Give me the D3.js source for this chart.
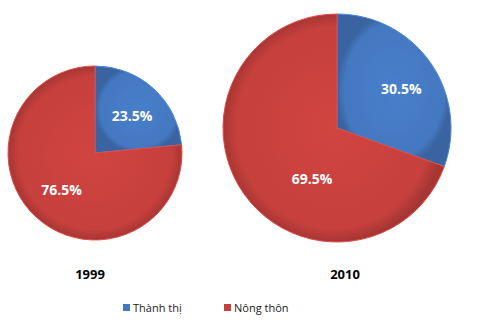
<!DOCTYPE html>
<html><head><meta charset="utf-8">
<script src="https://cdn.jsdelivr.net/npm/d3@7"></script>
<style>html,body{margin:0;padding:0;background:#fff;}svg{display:block;}</style>
</head><body>
<svg id="c" width="478" height="324"></svg>
<script>
const categories = ["Thành thị", "Nông thôn"];
const years = ["1999", "2010"];
const values1999 = [23.5, 76.5];
const values2010 = [30.5, 69.5];
const colors = ["#4478c0", "#c6403d"];

const svg = d3.select("#c");
const defs = svg.append("defs");
colors.forEach((c, i) => {
  const g = defs.append("radialGradient").attr("id", "g" + i)
    .attr("cx", "50%").attr("cy", "50%").attr("r", "50%");
  g.append("stop").attr("offset", "0%").attr("stop-color", d3.color(c).brighter(0.15));
  g.append("stop").attr("offset", "88%").attr("stop-color", c);
  g.append("stop").attr("offset", "100%").attr("stop-color", d3.color(c).darker(0.5));
});

// layout: centre, radius, year-label x, label placement (radius fraction, angle shift in degrees)
const layout = [
  {cx: 95, cy: 153, r: 87, yx: 90, place: [{k: 0.6, a: 3}, {k: 0.57, a: 0}]},
  {cx: 337, cy: 128, r: 114, yx: 345, place: [{k: 0.66, a: 4}, {k: 0.5, a: -29}]}
];
const data = [values1999, values2010];
const pie = d3.pie().sort(null).value(d => d);

layout.forEach((p, pi) => {
  const g = svg.append("g").attr("transform", `translate(${p.cx},${p.cy})`);
  const arc = d3.arc().innerRadius(0).outerRadius(p.r);
  const arcs = pie(data[pi]);
  g.selectAll("path").data(arcs).join("path")
    .attr("d", arc)
    .attr("fill", (d, i) => `url(#g${i})`)
    .attr("stroke", (d, i) => d3.color(colors[i]).brighter(0.4))
    .attr("stroke-width", 1);
  g.selectAll("text").data(arcs).join("text")
    .attr("transform", (d, i) => {
      const pl = p.place[i];
      const ang = (d.startAngle + d.endAngle) / 2 + pl.a * Math.PI / 180;
      const rr = p.r * pl.k;
      return `translate(${rr * Math.sin(ang)},${-rr * Math.cos(ang)})`;
    })
    .attr("text-anchor", "middle").attr("dy", "0.35em")
    .attr("font-family", "Open Sans, sans-serif").attr("font-weight", "bold")
    .attr("font-size", 14).attr("fill", "#fff")
    .text(d => d.data.toFixed(1) + "%");
  svg.append("text").attr("x", p.yx).attr("y", 274).attr("text-anchor", "middle")
    .attr("dy", "0.35em").attr("font-family", "Open Sans, sans-serif").attr("font-weight", "bold")
    .attr("font-size", 13).attr("fill", "#000").text(years[pi]);
});

const legendX = [123, 224];
const lg = svg.append("g");
categories.forEach((c, i) => {
  lg.append("rect").attr("x", legendX[i]).attr("y", 304).attr("width", 7).attr("height", 7)
    .attr("fill", colors[i]);
  lg.append("text").attr("x", legendX[i] + 10).attr("y", 308).attr("dy", "0.35em")
    .attr("font-family", "Open Sans, sans-serif").attr("font-size", 11).attr("fill", "#222")
    .text(c);
});
</script>
</body></html>
